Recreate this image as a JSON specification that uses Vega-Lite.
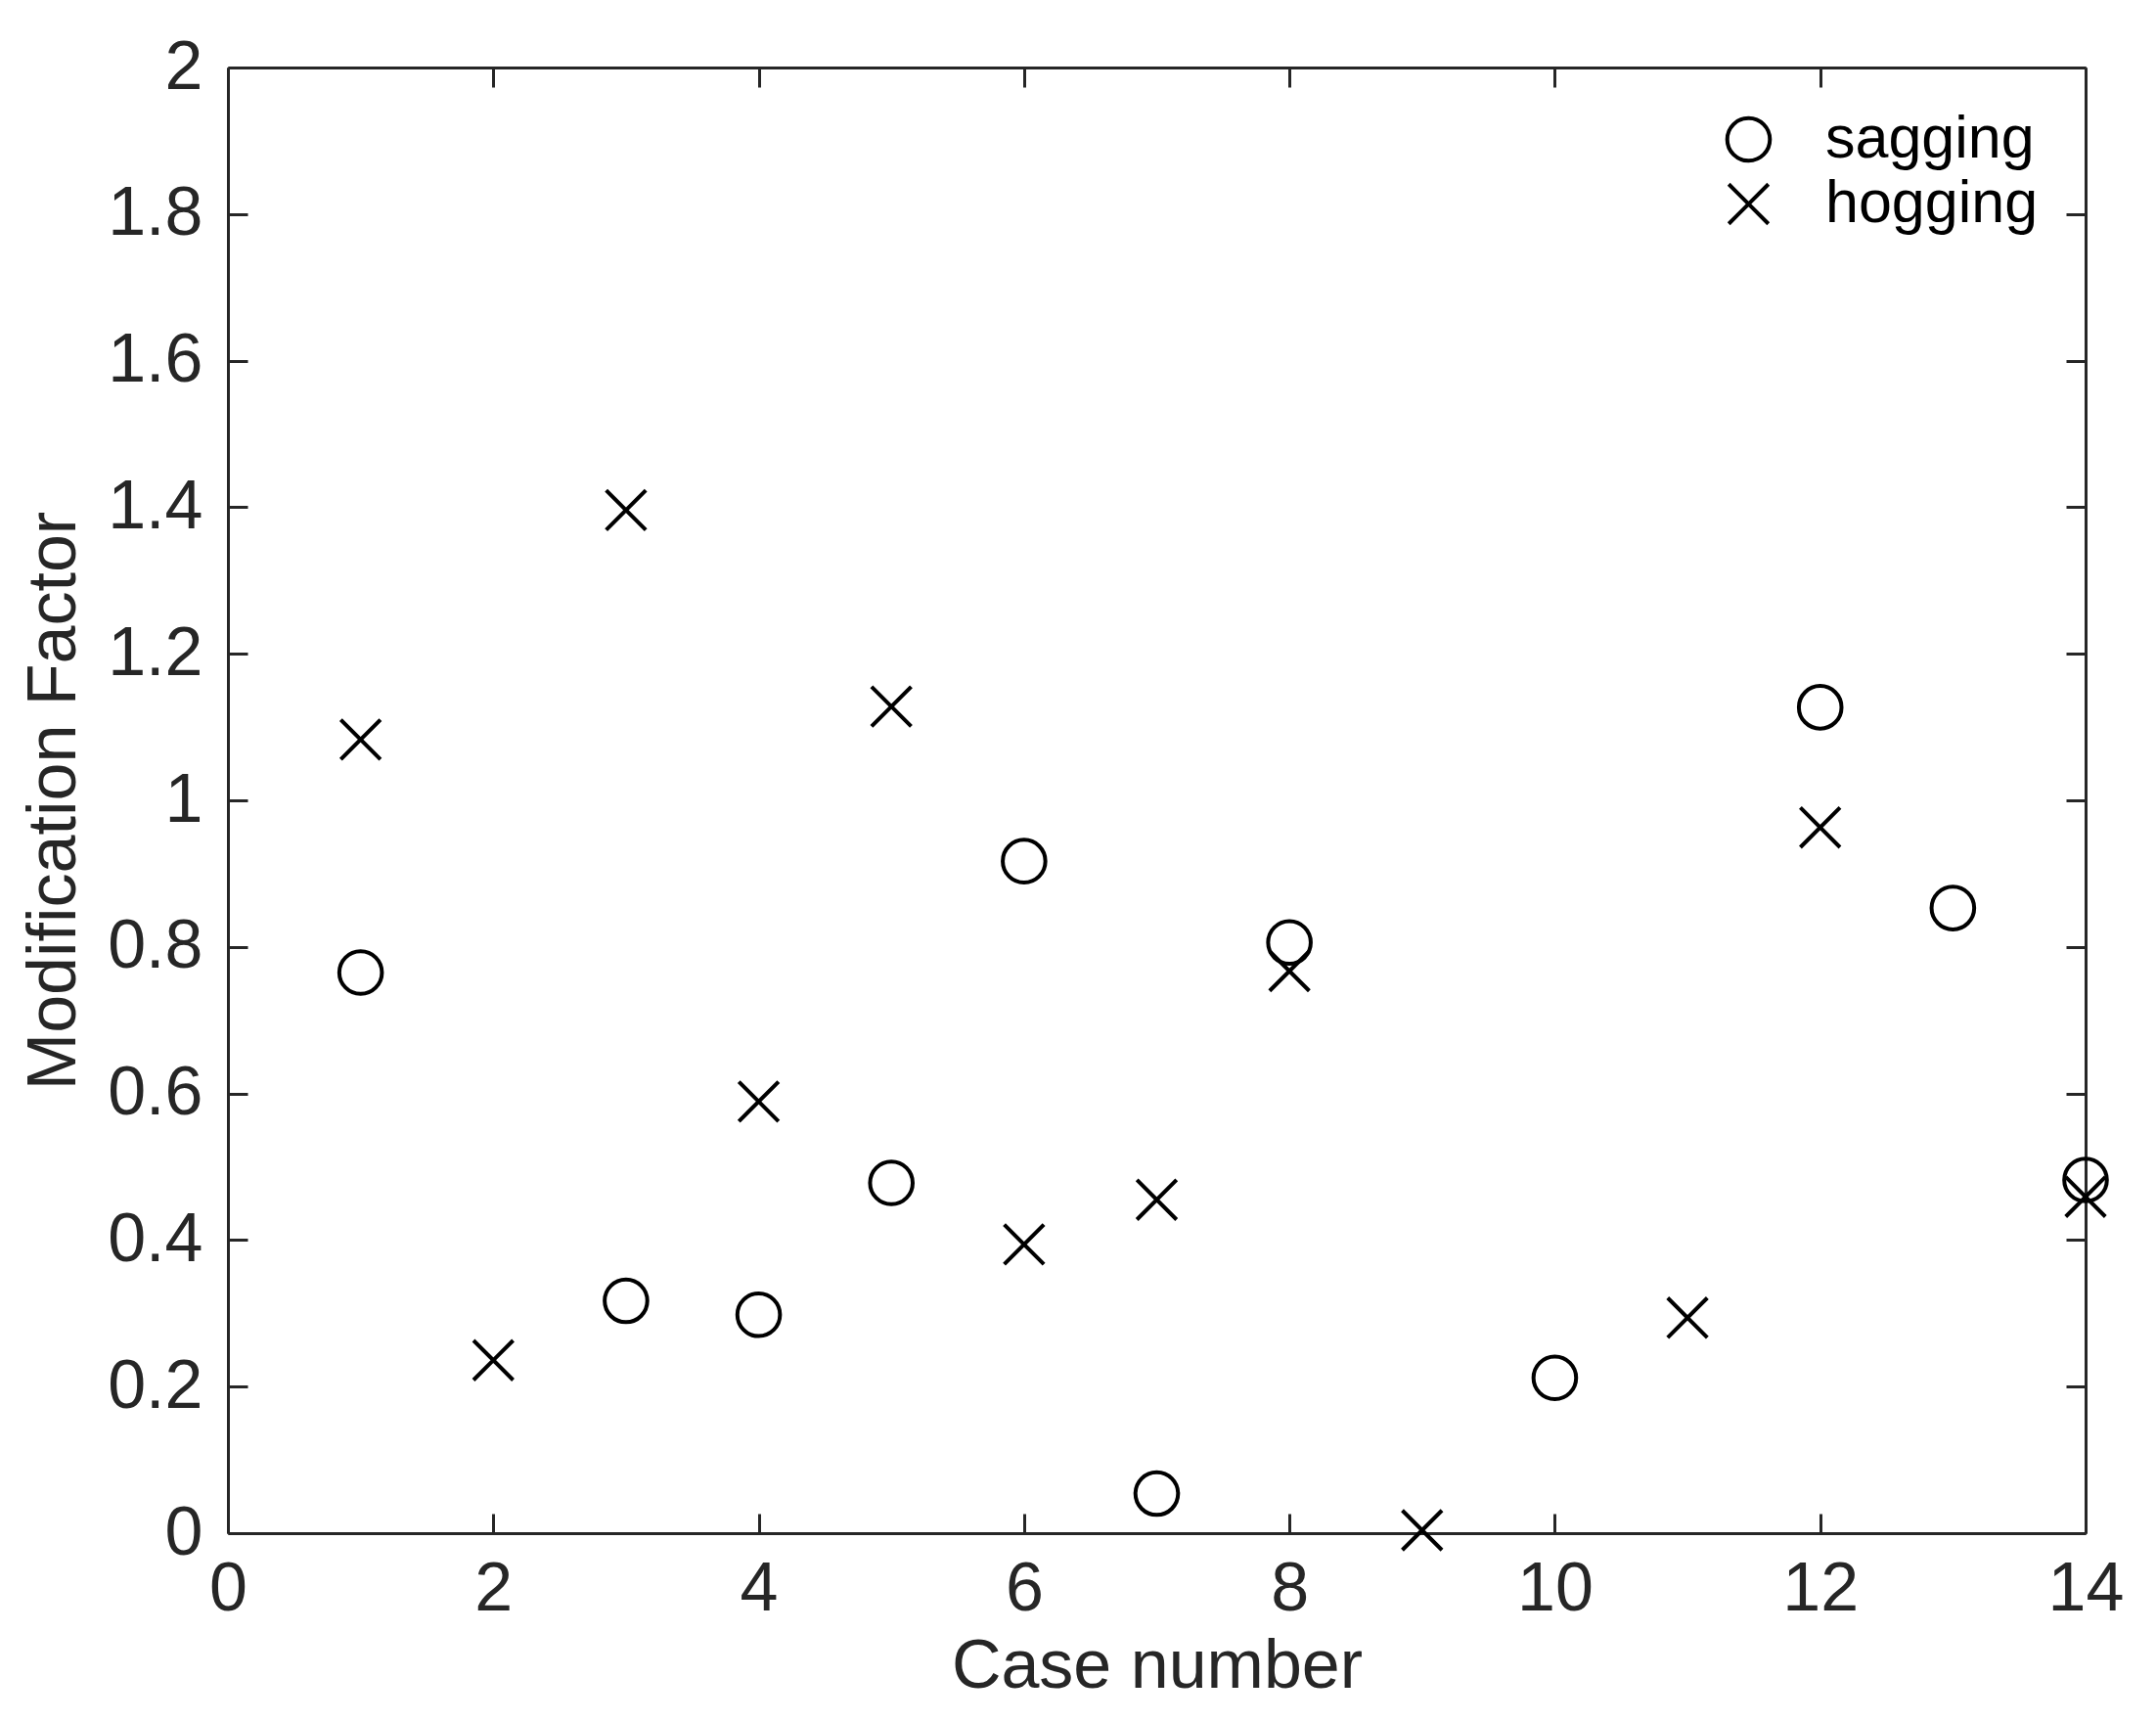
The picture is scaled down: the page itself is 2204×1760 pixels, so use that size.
{
  "$schema": "https://vega.github.io/schema/vega-lite/v6.json",
  "autosize": "none",
  "width": 1899,
  "height": 1498,
  "padding": {"left": 233, "top": 69, "right": 72, "bottom": 193},
  "background": "white",
  "config": {
    "view": {"stroke": null},
    "font": "Liberation Sans",
    "axis": {
      "domainColor": "#262626",
      "domainWidth": 3,
      "tickColor": "#262626",
      "tickWidth": 3,
      "tickSize": -20,
      "labelColor": "#262626",
      "labelFont": "Liberation Sans",
      "labelFontSize": 70,
      "labelFlush": false,
      "labelOverlap": false,
      "titleColor": "#262626",
      "titleFont": "Liberation Sans",
      "titleFontSize": 70,
      "titleFontWeight": "normal",
      "grid": false
    },
    "legend": {
      "labelFont": "Liberation Sans",
      "labelFontSize": 61,
      "labelColor": "#000000",
      "labelLimit": 0
    }
  },
  "data": {
    "values": [
      {"case": 1, "type": "sagging", "mf": 0.765},
      {"case": 3, "type": "sagging", "mf": 0.317},
      {"case": 4, "type": "sagging", "mf": 0.298},
      {"case": 5, "type": "sagging", "mf": 0.478},
      {"case": 6, "type": "sagging", "mf": 0.917},
      {"case": 7, "type": "sagging", "mf": 0.054},
      {"case": 8, "type": "sagging", "mf": 0.806},
      {"case": 10, "type": "sagging", "mf": 0.212},
      {"case": 12, "type": "sagging", "mf": 1.127},
      {"case": 13, "type": "sagging", "mf": 0.853},
      {"case": 14, "type": "sagging", "mf": 0.482},
      {"case": 1, "type": "hogging", "mf": 1.083},
      {"case": 2, "type": "hogging", "mf": 0.236},
      {"case": 3, "type": "hogging", "mf": 1.396},
      {"case": 4, "type": "hogging", "mf": 0.589},
      {"case": 5, "type": "hogging", "mf": 1.128},
      {"case": 6, "type": "hogging", "mf": 0.394},
      {"case": 7, "type": "hogging", "mf": 0.455},
      {"case": 8, "type": "hogging", "mf": 0.767},
      {"case": 9, "type": "hogging", "mf": 0.004},
      {"case": 11, "type": "hogging", "mf": 0.294},
      {"case": 12, "type": "hogging", "mf": 0.963},
      {"case": 14, "type": "hogging", "mf": 0.459}
    ]
  },
  "layer": [
    {
      "mark": {"type": "point", "filled": false, "strokeWidth": 4, "color": "#000000", "opacity": 1, "size": 1900, "clip": false},
      "encoding": {
        "x": {
          "field": "case", "type": "quantitative",
          "scale": {"domain": [0, 14], "nice": false, "zero": false},
          "axis": {"orient": "bottom", "values": [0, 2, 4, 6, 8, 10, 12, 14], "title": "Case number", "labelPadding": 43, "titlePadding": 10}
        },
        "y": {
          "field": "mf", "type": "quantitative",
          "scale": {"domain": [0, 2], "nice": false, "zero": false},
          "axis": {"orient": "left", "values": [0, 0.2, 0.4, 0.6, 0.8, 1, 1.2, 1.4, 1.6, 1.8, 2], "format": "~g", "title": "Modification Factor", "labelPadding": 46, "titlePadding": 18}
        },
        "shape": {
          "field": "type", "type": "nominal",
          "scale": {"domain": ["sagging", "hogging"], "range": ["circle", "M-0.93,-0.93L0.93,0.93M0.93,-0.93L-0.93,0.93"]},
          "legend": {
            "title": null, "orient": "none", "legendX": 1524, "legendY": 43,
            "padding": 0, "symbolSize": 1900, "symbolStrokeWidth": 4, "symbolStrokeColor": "#000000", "symbolFillColor": "transparent",
            "labelOffset": 48, "rowPadding": 4
          }
        }
      }
    },
    {
      "mark": {"type": "point", "opacity": 0},
      "encoding": {
        "x": {
          "field": "case", "type": "quantitative",
          "axis": {"orient": "top", "values": [0, 2, 4, 6, 8, 10, 12, 14], "labels": false, "title": null}
        },
        "y": {
          "field": "mf", "type": "quantitative",
          "axis": {"orient": "right", "values": [0, 0.2, 0.4, 0.6, 0.8, 1, 1.2, 1.4, 1.6, 1.8, 2], "labels": false, "title": null}
        }
      }
    }
  ],
  "resolve": {"axis": {"x": "independent", "y": "independent"}}
}
